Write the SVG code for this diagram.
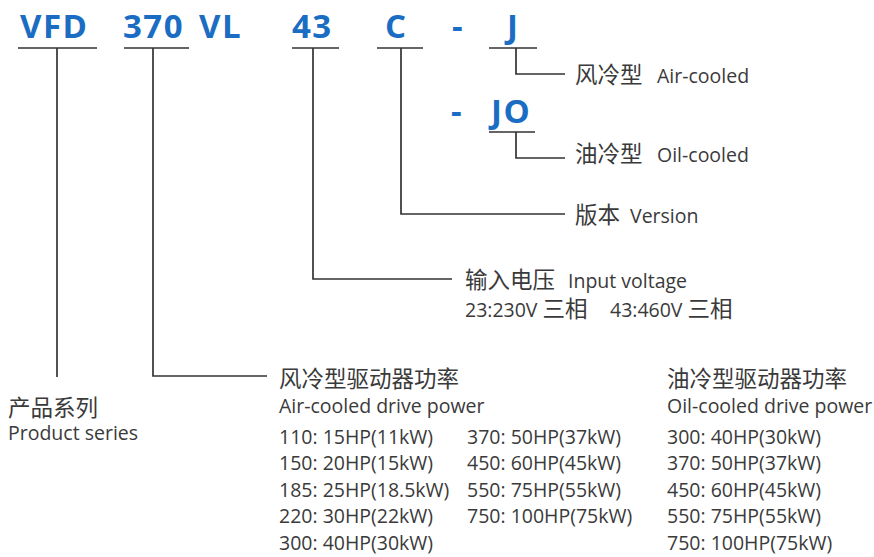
<svg xmlns="http://www.w3.org/2000/svg" width="874" height="557" viewBox="0 0 874 557">
<style>
.code{font-family:"Open Sans","Liberation Sans",sans-serif;font-weight:700;font-size:33px;letter-spacing:1.5px;fill:#1a6dc2}
.t{font-family:"Open Sans","Noto Sans CJK SC",sans-serif;font-size:19.5px;fill:#3a3a3a}
.cj{font-family:"Noto Sans CJK SC",sans-serif;font-size:22.5px}
.ln{stroke:#333;stroke-width:1.7;fill:none}
</style>
<rect width="874" height="557" fill="#fff"/>
<g id="code">
<text class="code" x="20" y="38">VFD</text>
<text class="code" x="123" y="38">370</text>
<text class="code" x="199" y="38">VL</text>
<text class="code" x="292" y="38">43</text>
<text class="code" x="385" y="38">C</text>
<text class="code" x="452" y="38">-</text>
<text class="code" x="507" y="38">J</text>
<text class="code" x="451" y="123">-</text>
<text class="code" x="491" y="123">JO</text>
</g>
<g id="connectors" class="ln">
<path d="M18 48H97M124 48H189M292 48H339M377 48H423M489 48H537M489 132H535"/>
<path d="M57 48V377"/>
<path d="M153 48V376H267"/>
<path d="M313 48V279H452"/>
<path d="M401 48V214H565"/>
<path d="M516 48V74H565"/>
<path d="M516 132V158H565"/>
</g>
<g id="air-cooled"><text class="t" x="575" y="83"><tspan class="cj">风冷型</tspan><tspan x="657">Air-cooled</tspan></text></g>
<g id="oil-cooled"><text class="t" x="575" y="162"><tspan class="cj">油冷型</tspan><tspan x="657">Oil-cooled</tspan></text></g>
<g id="version"><text class="t" x="575" y="223"><tspan class="cj">版本</tspan><tspan x="630">Version</tspan></text></g>
<g id="voltage">
<text class="t" x="465" y="288"><tspan class="cj">输入电压</tspan><tspan x="568">Input voltage</tspan></text>
<text class="t" x="465" y="317">23:230V <tspan class="cj">三相</tspan></text>
<text class="t" x="610" y="317">43:460V <tspan class="cj">三相</tspan></text>
</g>
<g id="series">
<text class="t cj" x="8" y="416">产品系列</text>
<text class="t" x="8" y="440">Product series</text>
</g>
<g id="air-power">
<text class="t cj" x="279" y="387">风冷型驱动器功率</text>
<text class="t" x="279" y="413">Air-cooled drive power</text>
<text class="t" x="279" y="444">110: 15HP(11kW)</text>
<text class="t" x="279" y="470">150: 20HP(15kW)</text>
<text class="t" x="279" y="497">185: 25HP(18.5kW)</text>
<text class="t" x="279" y="523">220: 30HP(22kW)</text>
<text class="t" x="279" y="550">300: 40HP(30kW)</text>
<text class="t" x="467" y="444">370: 50HP(37kW)</text>
<text class="t" x="467" y="470">450: 60HP(45kW)</text>
<text class="t" x="467" y="497">550: 75HP(55kW)</text>
<text class="t" x="467" y="523">750: 100HP(75kW)</text>
</g>
<g id="oil-power">
<text class="t cj" x="667" y="387">油冷型驱动器功率</text>
<text class="t" x="667" y="413">Oil-cooled drive power</text>
<text class="t" x="667" y="444">300: 40HP(30kW)</text>
<text class="t" x="667" y="470">370: 50HP(37kW)</text>
<text class="t" x="667" y="497">450: 60HP(45kW)</text>
<text class="t" x="667" y="523">550: 75HP(55kW)</text>
<text class="t" x="667" y="550">750: 100HP(75kW)</text>
</g>
</svg>
